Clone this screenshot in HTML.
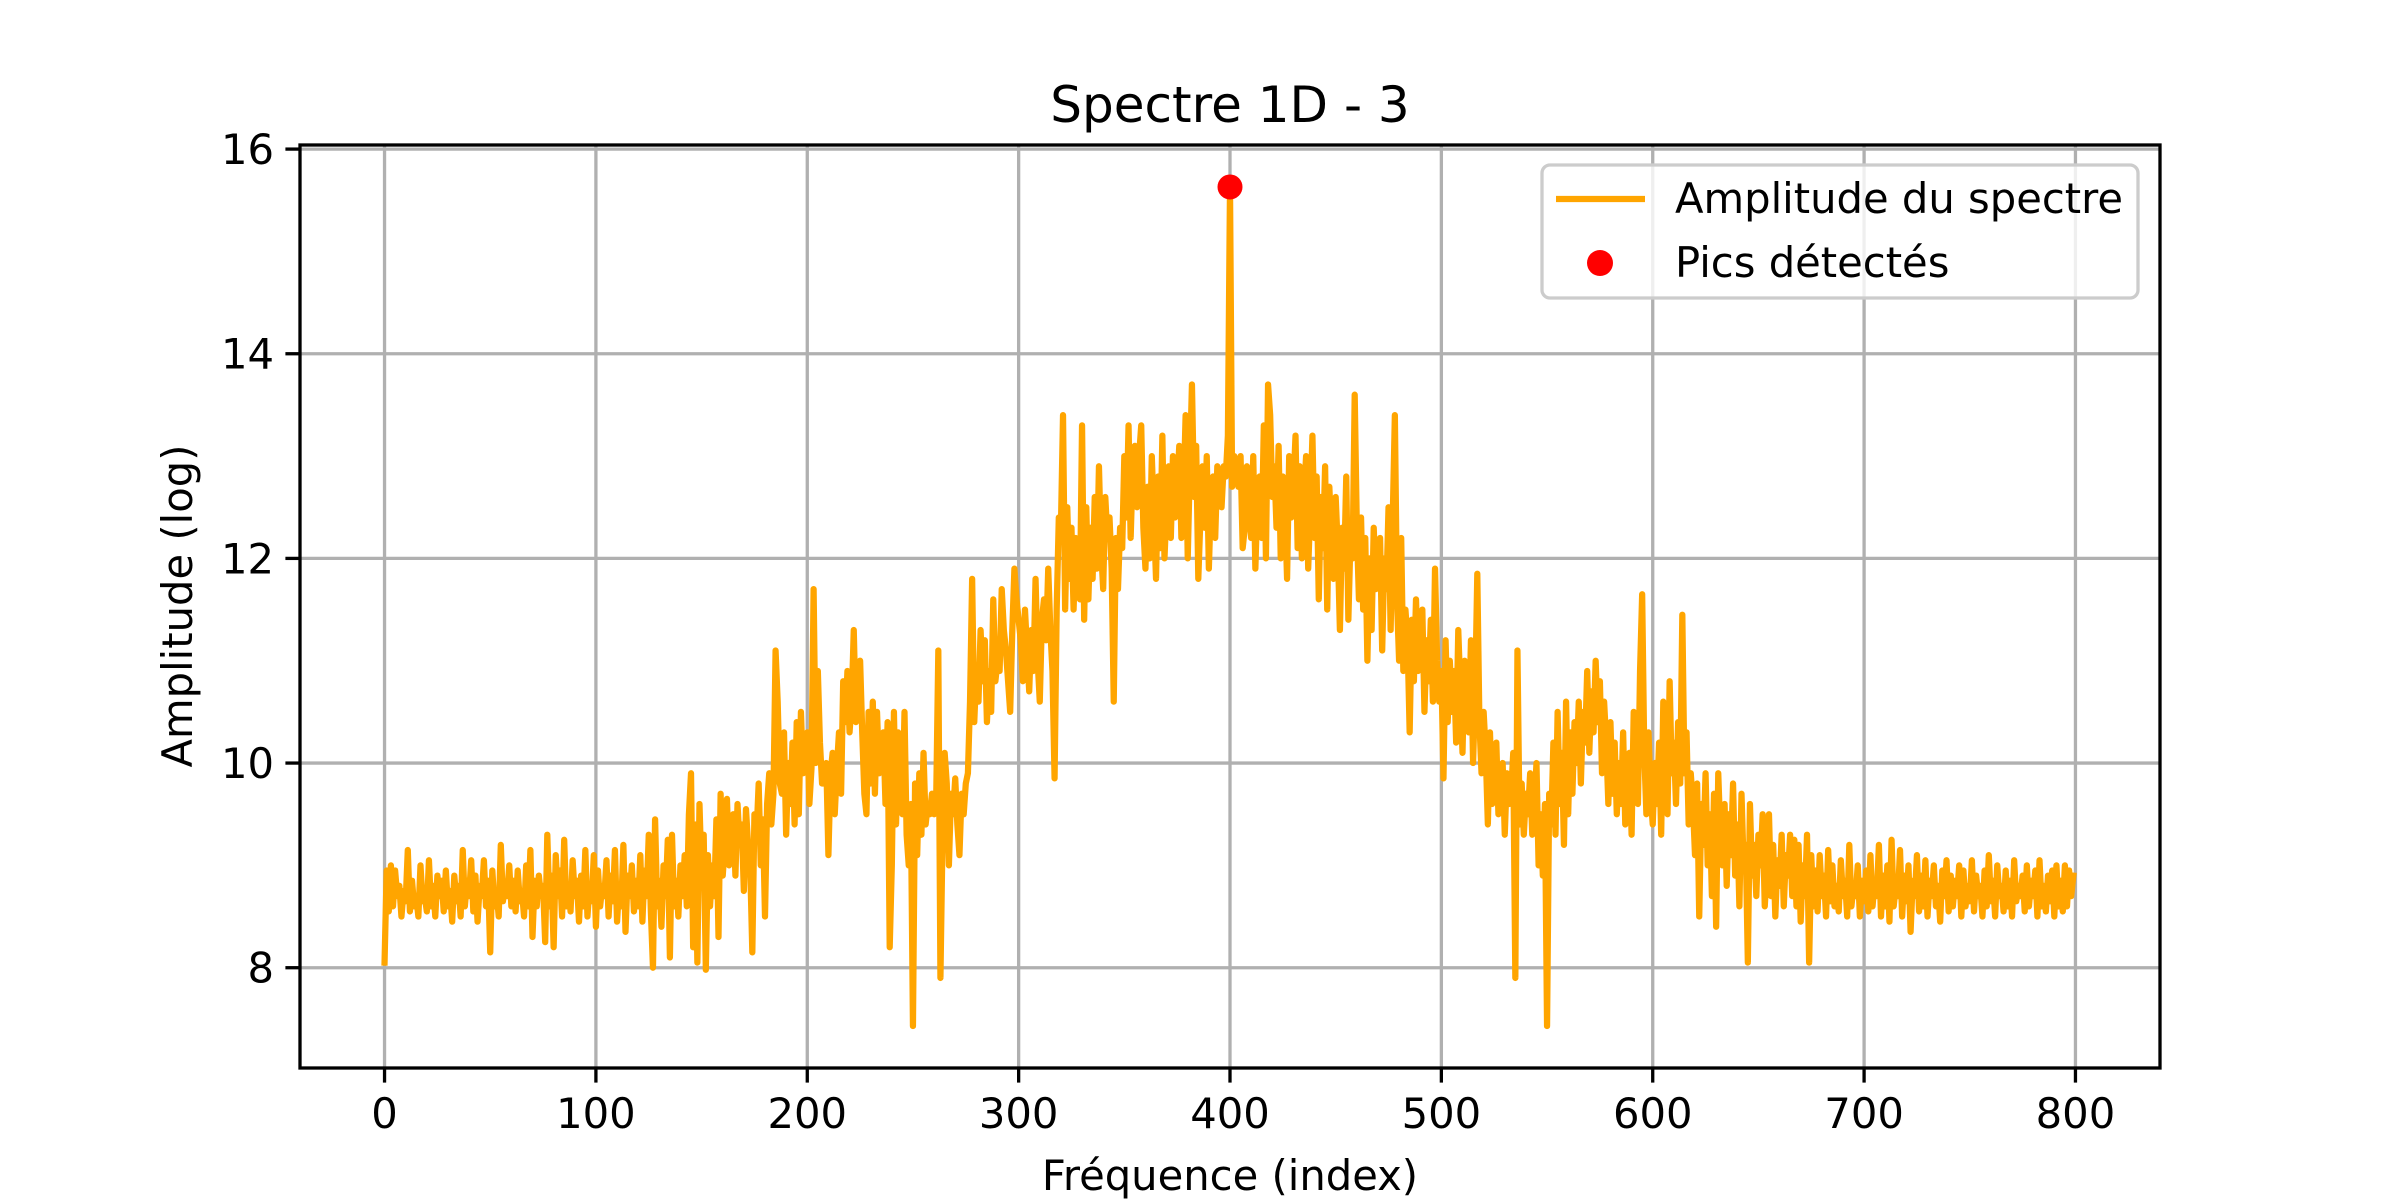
<!DOCTYPE html>
<html><head><meta charset="utf-8"><style>
html,body{margin:0;padding:0;background:#fff;}
svg{display:block;font-family:"DejaVu Sans","Liberation Sans",sans-serif;}
</style></head><body>
<svg id="chart" width="2400" height="1200" viewBox="0 0 2400 1200" xmlns="http://www.w3.org/2000/svg">
<rect x="0" y="0" width="2400" height="1200" fill="#fff"/>
<g id="grid"></g>
<g id="series"></g>
<rect x="300" y="145" width="1860" height="923" fill="none" stroke="#000" stroke-width="3.3"/>
<g id="ticks"></g>
<text x="1230" y="122" font-size="50" text-anchor="middle">Spectre 1D - 3</text>
<text x="1230" y="1190" font-size="41.7" text-anchor="middle">Fréquence (index)</text>
<text x="0" y="0" font-size="41.7" text-anchor="middle" transform="translate(192,606) rotate(-90)">Amplitude (log)</text>
<g>
<rect x="1542" y="165" width="596" height="133" rx="8" fill="#fff" fill-opacity="0.8" stroke="#ccc" stroke-width="3.3"/>
<line x1="1556" y1="199" x2="1645" y2="199" stroke="#FFA500" stroke-width="6.25"/>
<text x="1675" y="213" font-size="41.7">Amplitude du spectre</text>
<circle cx="1600" cy="263" r="13" fill="#ff0000"/>
<text x="1675" y="277" font-size="41.7">Pics détectés</text>
</g>
</svg>
<script>
const amplitude = [
8.05,8.95,8.55,9.0,8.6,8.95,8.7,8.8,8.5,8.75,8.65,9.15,8.55,8.85,8.6,8.7,8.5,9.0,8.65,8.7,
8.55,9.05,8.6,8.8,8.5,8.9,8.7,8.85,8.55,8.95,8.6,8.75,8.45,8.9,8.65,8.8,8.5,9.15,8.6,8.85,
8.7,9.05,8.55,8.9,8.45,8.8,8.7,9.05,8.6,8.85,8.15,8.95,8.6,8.75,8.5,9.2,8.65,8.8,8.7,9.0,
8.6,8.85,8.55,8.95,8.65,8.75,8.5,9.0,8.6,9.15,8.3,8.85,8.6,8.9,8.7,8.8,8.25,9.3,8.6,8.9,
8.2,9.1,8.7,8.95,8.5,9.25,8.6,8.8,8.55,9.05,8.7,8.85,8.45,8.9,8.6,9.15,8.5,8.8,8.65,9.1,
8.4,8.95,8.6,8.8,8.7,9.05,8.5,8.9,8.65,9.15,8.45,8.8,8.6,9.2,8.35,8.9,8.7,9.0,8.55,8.85,
8.6,9.1,8.45,8.95,8.7,9.3,8.55,8.0,9.45,8.6,8.85,8.4,9.0,8.7,9.25,8.1,9.3,8.6,8.85,8.5,
9.0,8.7,9.1,8.6,9.5,9.9,8.2,9.4,8.05,9.6,8.9,9.3,7.98,9.1,8.6,9.0,8.7,9.45,8.3,9.7,
8.9,9.2,9.65,9.0,9.3,9.5,8.9,9.6,9.2,9.4,8.75,9.55,9.2,9.0,8.15,9.5,9.3,9.8,9.0,9.45,
8.5,9.6,9.9,9.4,9.7,11.1,10.6,9.8,9.7,10.3,9.3,10.0,9.6,10.2,9.4,10.4,9.5,10.5,9.9,10.0,
10.3,9.6,9.95,11.7,10.0,10.9,10.2,9.8,9.8,10.0,9.1,9.9,10.1,9.5,9.95,10.3,9.7,10.8,10.4,10.9,
10.3,10.6,11.3,10.4,10.8,11.0,10.3,9.7,9.5,10.5,9.8,10.6,9.7,10.5,9.9,10.1,10.3,9.6,10.4,8.2,
9.0,10.5,9.4,10.3,9.9,9.5,10.5,9.3,9.0,9.6,7.43,9.8,9.1,9.9,9.3,10.1,9.4,9.6,9.5,9.7,
9.5,9.65,11.1,7.9,9.3,10.1,9.8,9.0,9.7,9.5,9.85,9.4,9.1,9.7,9.5,9.8,9.9,10.6,11.8,10.4,
10.9,10.6,11.3,10.8,11.2,10.4,10.9,10.5,11.6,10.8,11.0,10.9,11.7,11.3,11.1,10.8,10.5,11.3,11.9,11.6,
11.4,11.2,10.8,11.5,11.1,10.7,11.3,10.9,11.8,11.0,10.6,11.4,11.6,11.2,11.9,11.3,10.9,9.85,11.5,12.4,
12.3,13.4,11.5,12.5,11.8,12.3,11.5,12.2,12.0,11.6,13.3,11.4,12.5,11.6,12.3,11.8,12.6,11.9,12.9,12.1,
11.7,12.6,12.2,12.4,11.9,10.6,12.2,11.7,12.3,12.1,13.0,12.4,13.3,12.2,12.9,13.1,12.5,13.0,13.3,12.3,
11.9,12.7,12.0,13.0,12.4,11.8,12.8,12.1,13.2,12.0,12.5,12.9,12.2,13.0,12.4,12.7,13.1,12.2,12.6,13.4,
12.0,12.9,13.7,12.6,13.1,11.8,12.4,12.9,12.3,13.0,11.9,12.6,12.8,12.2,12.9,12.7,12.5,12.9,12.8,13.2,
15.63,12.7,13.0,12.9,12.7,13.0,12.1,12.3,12.9,12.5,12.2,13.0,11.9,12.6,12.8,12.2,13.3,12.0,13.7,13.4,
12.6,12.9,12.3,13.1,12.0,12.8,12.5,11.8,13.0,12.4,12.7,13.2,12.1,12.9,12.0,12.6,13.0,11.9,12.5,13.2,
12.2,12.8,11.6,12.6,12.1,12.9,11.5,12.7,12.2,11.8,12.6,12.1,11.3,12.3,11.9,12.8,11.4,12.2,12.0,13.6,
12.3,11.6,12.4,11.5,12.2,11.0,12.0,11.3,12.3,11.7,11.9,12.2,11.1,12.0,11.7,12.5,11.3,12.4,13.4,11.6,
11.0,12.2,10.9,11.5,11.2,10.3,11.4,10.8,11.6,10.9,11.1,11.5,10.5,11.2,10.8,11.4,10.6,11.9,11.0,10.6,
10.9,9.85,11.2,10.4,11.0,10.5,10.9,10.2,11.3,10.7,10.1,11.0,10.6,10.3,11.2,10.0,10.7,11.85,10.4,9.9,
10.5,10.1,9.4,10.3,9.6,9.9,10.2,9.5,9.8,10.0,9.3,9.9,9.6,9.7,10.1,7.9,11.1,9.4,9.8,9.3,
9.7,9.5,9.9,9.3,9.6,10.0,9.0,9.5,8.9,9.6,7.43,9.7,9.4,10.2,9.3,10.5,9.6,10.1,9.2,10.6,
9.5,10.3,9.7,10.4,10.0,10.6,9.8,10.5,10.2,10.9,10.1,10.7,10.3,11.0,10.4,10.8,9.9,10.6,10.2,9.6,
10.4,9.7,10.2,9.5,10.0,9.6,10.3,9.4,9.9,10.1,9.3,10.5,9.8,9.6,10.9,11.65,10.1,9.5,10.3,9.7,
9.4,10.0,9.6,10.2,9.3,10.6,9.7,9.5,10.8,9.9,10.2,9.6,10.4,9.8,11.45,9.9,10.3,9.4,9.9,9.6,
9.1,9.8,8.5,9.6,9.2,9.9,9.0,9.5,8.7,9.7,8.4,9.9,9.3,9.0,9.6,8.8,9.5,9.1,9.8,8.9,
9.4,8.6,9.7,9.0,9.2,8.05,9.6,8.9,9.2,8.7,9.3,9.0,9.5,8.6,8.95,9.5,8.7,9.2,8.5,9.05,
8.8,9.3,8.6,9.1,8.9,9.3,8.7,9.25,8.6,9.2,8.45,9.0,8.7,9.3,8.05,9.1,8.6,8.95,8.55,9.1,
8.7,8.9,8.5,9.15,8.65,9.0,8.6,8.8,8.55,9.05,8.7,8.85,8.5,9.2,8.6,8.8,8.7,9.0,8.5,8.85,
8.65,8.95,8.55,9.1,8.6,8.85,8.7,9.2,8.5,8.9,8.6,9.0,8.45,9.25,8.6,8.8,8.7,9.15,8.5,8.9,
8.65,9.0,8.35,8.85,8.7,9.1,8.55,8.9,8.6,9.05,8.5,8.85,8.7,9.0,8.6,8.8,8.45,8.95,8.7,9.05,
8.55,8.9,8.6,8.85,8.7,9.0,8.5,8.95,8.6,8.8,8.65,9.05,8.55,8.9,8.7,8.8,8.5,8.95,8.6,9.1,
8.65,8.85,8.5,9.0,8.7,8.8,8.55,8.95,8.6,8.85,8.5,9.05,8.65,8.8,8.7,8.9,8.55,9.0,8.6,8.85,
8.7,8.95,8.5,9.05,8.6,8.8,8.55,8.9,8.65,8.95,8.5,9.0,8.6,8.85,8.55,9.0,8.6,8.95,8.7,8.9
];
const peakIndices = [400];
const peakValues = [15.63];
const xTicks = [0,100,200,300,400,500,600,700,800];
const yTicks = [8,10,12,14,16];

const X0=300,X1=2160,Y0=145,Y1=1068;
const xMin=-40,xMax=840,yMin=7.02,yMax=16.04;
function sx(v){return X0+(v-xMin)/(xMax-xMin)*(X1-X0);}
function sy(v){return Y1-(v-yMin)/(yMax-yMin)*(Y1-Y0);}
const NS='http://www.w3.org/2000/svg';
function mk(tag,attrs,parent){const e=document.createElementNS(NS,tag);for(const k in attrs)e.setAttribute(k,attrs[k]);parent.appendChild(e);return e;}
const grid=document.getElementById('grid'),ticks=document.getElementById('ticks'),series=document.getElementById('series');

xTicks.forEach(t=>{
  const x=sx(t);
  const g=mk('line',{x1:x,y1:Y0,x2:x,y2:Y1,stroke:'#b0b0b0','stroke-width':3.3},grid);
  
  
  const tk=mk('line',{x1:x,y1:Y1,x2:x,y2:Y1+14.6,stroke:'#000','stroke-width':3.3},ticks);
  
  
  const tx=mk('text',{x:x,y:Y1+60,'font-size':41.7,'text-anchor':'middle'},ticks);
  tx.textContent=String(t);
  
  
});
yTicks.forEach(t=>{
  const y=sy(t);
  const g=mk('line',{x1:X0,y1:y,x2:X1,y2:y,stroke:'#b0b0b0','stroke-width':3.3},grid);
  
  
  const tk=mk('line',{x1:X0-14.6,y1:y,x2:X0,y2:y,stroke:'#000','stroke-width':3.3},ticks);
  
  
  const tx=mk('text',{x:X0-26,y:y+15,'font-size':41.7,'text-anchor':'end'},ticks);
  tx.textContent=String(t);
  
  
});

let d='';
amplitude.forEach((v,i)=>{d+=(i?'L':'M')+sx(i).toFixed(2)+' '+sy(v).toFixed(2);});
const path=mk('path',{d:d,fill:'none',stroke:'#FFA500','stroke-width':6.25,'stroke-linejoin':'round','stroke-linecap':'square'},series);



peakIndices.forEach((p,i)=>{
  const c=mk('circle',{cx:sx(p),cy:sy(peakValues[i]),r:12.5,fill:'#ff0000'},series);
  
  
});
</script>
</body></html>
